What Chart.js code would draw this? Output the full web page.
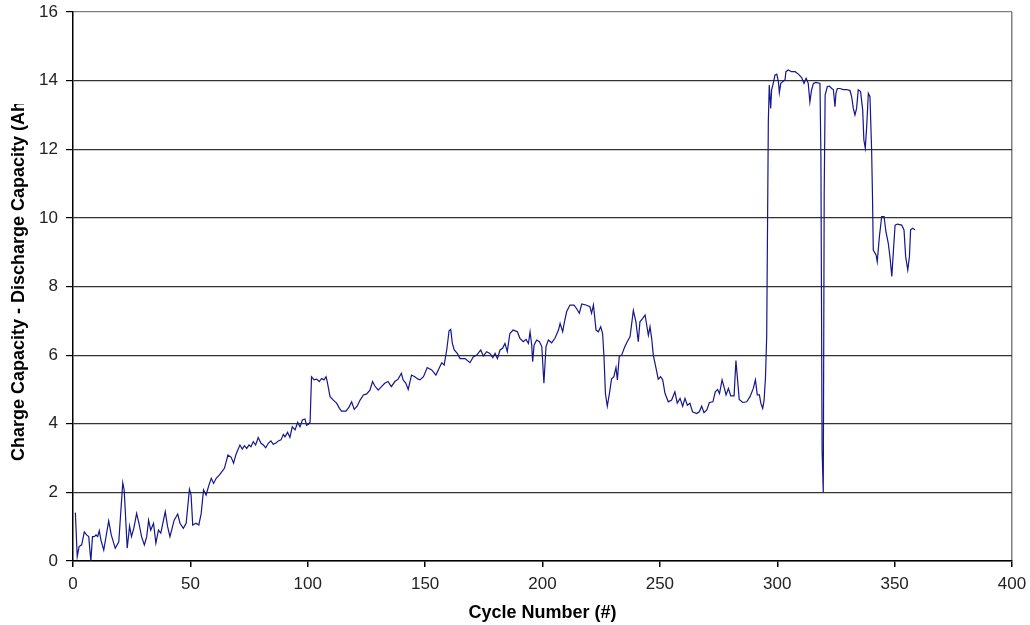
<!DOCTYPE html>
<html>
<head>
<meta charset="utf-8">
<title>Charge - Discharge Capacity by Cycle</title>
<script src="https://cdn.jsdelivr.net/npm/chart.js@4/dist/chart.umd.min.js"></script>
<style>
  html, body { margin: 0; padding: 0; background: #ffffff; }
  #wrap { width: 1030px; height: 625px; }
</style>
</head>
<body>
<div id="wrap"><canvas id="chart" width="1030" height="625"></canvas></div>
<script>
// Cycle numbers and the measured difference (Ah) at each of them
const cycles = [
  1, 1.8, 2.6, 3.7, 4.8, 5.8, 6.7, 7.6, 8.3, 9.1, 9.8, 10.5, 11.2, 11.9, 13.1, 15.2, 16.3, 18.0, 19.5, 21.2,
  21.8, 23.1, 24.1, 24.9, 25.9, 27.1, 28.1, 29.2, 30.4, 31.4, 32.2, 33.1, 34.3, 35.3, 36.4, 37.4, 39.3, 40.3, 41.3, 42.4,
  43.1, 44.6, 45.6, 47.0, 48.2, 49.6, 50.3, 51.0, 52.4, 53.6, 54.6, 55.6, 56.7, 57.8, 58.9, 59.9, 61.0, 62.4, 64.5, 66.0,
  67.4, 68.4, 69.5, 71.1, 72.1, 73.0, 74.0, 75.0, 75.8, 76.8, 77.8, 78.9, 80.1, 81.1, 82.1, 83.2, 84.3, 85.3, 86.3, 87.5,
  88.6, 89.6, 90.3, 91.4, 92.4, 93.4, 94.6, 95.7, 96.7, 97.7, 98.8, 99.5, 100.2, 101.0, 101.6, 102.7, 103.8, 104.9, 105.9, 106.9,
  107.8, 108.3, 109.5, 110.9, 112.3, 113.5, 114.4, 116.3, 117.7, 118.7, 119.8, 121.1, 122.3, 123.7, 125.1, 126.5, 127.6, 128.6, 130.0, 131.4,
  132.8, 134.2, 135.6, 137.1, 138.5, 139.9, 140.6, 141.8, 142.8, 144.2, 145.6, 147.0, 147.8, 149.3, 150.9, 152.8, 154.6, 156.1, 157.1, 158.1,
  159.2, 160.2, 160.9, 161.6, 162.4, 163.7, 164.9, 167.0, 169.1, 170.5, 172.0, 173.7, 174.8, 176.2, 177.6, 178.8, 179.8, 180.8, 181.9, 183.0,
  184.0, 185.0, 186.1, 187.5, 189.3, 190.4, 191.8, 193.0, 194.0, 194.7, 195.4, 195.8, 196.4, 197.5, 198.7, 199.7, 200.6, 201.5, 202.5, 203.9,
  205.3, 206.8, 207.5, 208.6, 209.2, 210.3, 211.7, 213.4, 214.5, 215.7, 216.7, 218.5, 220.2, 220.9, 221.7, 222.8, 223.8, 224.8, 225.6, 226.2,
  226.8, 227.6, 228.5, 229.4, 230.4, 231.3, 231.9, 232.7, 233.7, 235.1, 236.1, 237.3, 238.7, 239.8, 240.8, 241.5, 242.7, 243.7, 244.4, 245.1,
  245.8, 246.5, 247.2, 248.4, 249.3, 250.3, 251.2, 252.2, 253.6, 255.0, 256.4, 257.4, 258.6, 259.7, 260.7, 261.7, 262.8, 263.9, 265.7, 266.8,
  267.8, 268.8, 270.0, 271.1, 272.6, 273.6, 274.6, 275.4, 276.5, 277.3, 278.2, 279.2, 280.2, 281.6, 282.4, 283.1, 283.8, 285.3, 287.0, 288.4,
  289.8, 290.7, 291.5, 292.4, 293.0, 293.8, 294.4, 295.0, 295.5, 296.2, 296.6, 297.2, 297.6, 298.3, 299.0, 299.8, 300.5, 300.9, 301.5, 302.3,
  303.3, 303.7, 304.7, 306.1, 307.6, 309.0, 310.4, 311.4, 312.3, 313.2, 313.9, 314.6, 315.4, 316.5, 318.2, 318.6, 319.1, 319.6, 320.0, 320.4,
  321.3, 322.2, 323.2, 323.9, 324.6, 325.0, 325.6, 326.7, 328.2, 329.6, 331.0, 331.7, 332.4, 333.1, 333.8, 334.5, 335.5, 336.4, 336.9, 337.5,
  338.1, 338.8, 339.5, 340.2, 340.6, 340.9, 342.1, 342.6, 343.5, 344.5, 345.5, 346.3, 347.3, 348.0, 348.8, 349.5, 350.2, 351.2, 353.0, 354.0,
  354.7, 355.6, 356.3, 356.8, 357.7, 358.7
];
const capacity = [
  1.41, 0.13, 0.42, 0.47, 0.85, 0.76, 0.71, 0.0, 0.71, 0.71, 0.76, 0.71, 0.88, 0.61, 0.32, 1.17, 0.76, 0.37, 0.56, 2.28,
  2.07, 0.37, 1.02, 0.71, 0.95, 1.39, 1.1, 0.71, 0.47, 0.71, 1.19, 0.9, 1.1, 0.52, 0.9, 0.81, 1.44, 1.0, 0.71, 1.0,
  1.19, 1.37, 1.1, 0.95, 1.1, 2.09, 1.92, 1.05, 1.1, 1.05, 1.38, 2.07, 1.92, 2.19, 2.41, 2.26, 2.41, 2.51, 2.7, 3.09,
  3.02, 2.85, 3.12, 3.38, 3.26, 3.36, 3.28, 3.38, 3.33, 3.48, 3.38, 3.6, 3.43, 3.38, 3.3, 3.43, 3.5, 3.4, 3.43, 3.5,
  3.53, 3.69, 3.62, 3.75, 3.6, 3.91, 3.82, 4.04, 3.91, 4.11, 4.14, 3.96, 3.98, 4.05, 5.37, 5.28, 5.3, 5.23, 5.32, 5.28,
  5.37, 5.23, 4.79, 4.69, 4.6, 4.45, 4.37, 4.37, 4.5, 4.64, 4.42, 4.52, 4.69, 4.84, 4.87, 4.98, 5.23, 5.1, 4.98, 5.08,
  5.18, 5.23, 5.08, 5.23, 5.3, 5.47, 5.28, 5.18, 5.0, 5.42, 5.37, 5.3, 5.28, 5.37, 5.64, 5.57, 5.42, 5.64, 5.78, 5.71,
  6.15, 6.71, 6.75, 6.34, 6.15, 6.05, 5.9, 5.9, 5.78, 5.95, 6.0, 6.15, 5.97, 6.1, 6.05, 5.93, 6.05, 5.9, 6.15, 6.2,
  6.34, 6.1, 6.63, 6.73, 6.68, 6.49, 6.39, 6.46, 6.34, 6.68, 6.29, 5.81, 6.29, 6.44, 6.39, 6.25, 5.18, 6.25, 6.44, 6.36,
  6.49, 6.73, 6.92, 6.68, 6.92, 7.27, 7.46, 7.46, 7.36, 7.22, 7.49, 7.46, 7.41, 7.22, 7.46, 6.73, 6.68, 6.83, 6.63, 5.95,
  4.88, 4.51, 4.88, 5.3, 5.37, 5.64, 5.28, 5.97, 6.0, 6.25, 6.39, 6.54, 7.3, 6.97, 6.39, 6.97, 7.07, 7.17, 6.87, 6.58,
  6.83, 6.49, 6.0, 5.61, 5.3, 5.37, 5.28, 4.88, 4.64, 4.69, 4.93, 4.6, 4.74, 4.51, 4.74, 4.54, 4.6, 4.35, 4.3, 4.35,
  4.51, 4.32, 4.4, 4.62, 4.64, 4.93, 5.0, 4.88, 5.28, 5.08, 4.84, 5.03, 4.81, 4.81, 5.84, 5.28, 4.71, 4.62, 4.64, 4.79,
  5.03, 5.28, 4.84, 4.84, 4.6, 4.45, 4.69, 5.37, 6.54, 12.8, 13.87, 13.19, 13.73, 13.92, 14.16, 14.19, 13.97, 13.65, 13.92, 13.97,
  14.02, 14.26, 14.31, 14.26, 14.26, 14.19, 14.09, 13.92, 14.07, 13.92, 13.38, 13.72, 13.92, 13.95, 13.92, 11.78, 3.24, 2.0, 10.7, 13.58,
  13.82, 13.84, 13.77, 13.74, 13.24, 13.63, 13.77, 13.77, 13.74, 13.74, 13.71, 13.53, 13.19, 13.0, 13.19, 13.73, 13.68, 13.14, 12.27, 12.03,
  12.66, 13.63, 13.53, 11.98, 10.52, 9.06, 8.92, 8.72, 9.45, 10.04, 10.04, 9.6, 9.26, 8.87, 8.29, 9.06, 9.79, 9.82, 9.79, 9.65,
  8.87, 8.48, 8.87, 9.65, 9.7, 9.65
];

// Axis ranges and tick spacing
const xRange = [0, 400];
const xStep = 50;
const yRange = [0, 16];
const yStep = 2;

const xTitle = 'Cycle Number (#)';
const yTitle = 'Charge Capacity - Discharge Capacity (Ah)';

const points = cycles.map((c, i) => ({ x: c, y: capacity[i] }));

// Axis titles drawn by hand: the vertical one is cut off at the top edge of its box
const axisTitles = {
  id: 'axisTitles',
  afterDraw(chart) {
    const { ctx, chartArea } = chart;
    ctx.save();
    ctx.fillStyle = '#000000';
    ctx.font = 'bold 18px "Liberation Sans", Arial, sans-serif';
    ctx.textAlign = 'center';
    ctx.textBaseline = 'middle';
    ctx.fillText(xTitle, (chartArea.left + chartArea.right) / 2, 613);
    ctx.restore();

    ctx.save();
    ctx.beginPath();
    ctx.rect(0, 104, 60, 500);
    ctx.clip();
    ctx.translate(19, 461);
    ctx.rotate(-Math.PI / 2);
    ctx.fillStyle = '#000000';
    ctx.font = 'bold 18px "Liberation Sans", Arial, sans-serif';
    ctx.textAlign = 'left';
    ctx.textBaseline = 'middle';
    ctx.fillText(yTitle, 0, 0);
    ctx.restore();
  }
};

new Chart(document.getElementById('chart'), {
  type: 'line',
  data: {
    datasets: [{
      data: points,
      borderColor: '#15158c',
      borderWidth: 1.2,
      pointRadius: 0,
      tension: 0,
      fill: false
    }]
  },
  options: {
    responsive: false,
    devicePixelRatio: 1,
    animation: false,
    layout: { padding: { top: 12, right: 18, left: 0, bottom: 0 } },
    plugins: {
      legend: { display: false },
      tooltip: { enabled: false },
      title: { display: false }
    },
    scales: {
      x: {
        type: 'linear',
        min: xRange[0],
        max: xRange[1],
        afterFit(scale) {
          scale.height = 64;
          scale.paddingLeft = 0;
          scale.paddingRight = 0;
        },
        ticks: {
          stepSize: xStep,
          autoSkip: false,
          maxRotation: 0,
          padding: 7,
          color: '#222222',
          font: { family: '"Liberation Sans", Arial, sans-serif', size: 17 }
        },
        grid: {
          color: (c) => (c.tick && c.tick.value === xRange[1]) ? '#808080' : 'rgba(0,0,0,0)',
          tickColor: '#000000',
          tickLength: 6,
          lineWidth: 1.5
        },
        border: { color: '#000000', width: 1.5 }
      },
      y: {
        type: 'linear',
        min: yRange[0],
        max: yRange[1],
        afterFit(scale) {
          scale.width = 73;
          scale.paddingTop = 0;
          scale.paddingBottom = 0;
        },
        ticks: {
          stepSize: yStep,
          padding: 8,
          color: '#222222',
          font: { family: '"Liberation Sans", Arial, sans-serif', size: 17 }
        },
        grid: {
          color: (c) => (c.tick && c.tick.value === yRange[1]) ? '#808080' : '#333333',
          tickColor: '#000000',
          tickLength: 7,
          lineWidth: 1.2
        },
        border: { color: '#000000', width: 1.5 }
      }
    }
  },
  plugins: [axisTitles]
});
</script>
</body>
</html>
